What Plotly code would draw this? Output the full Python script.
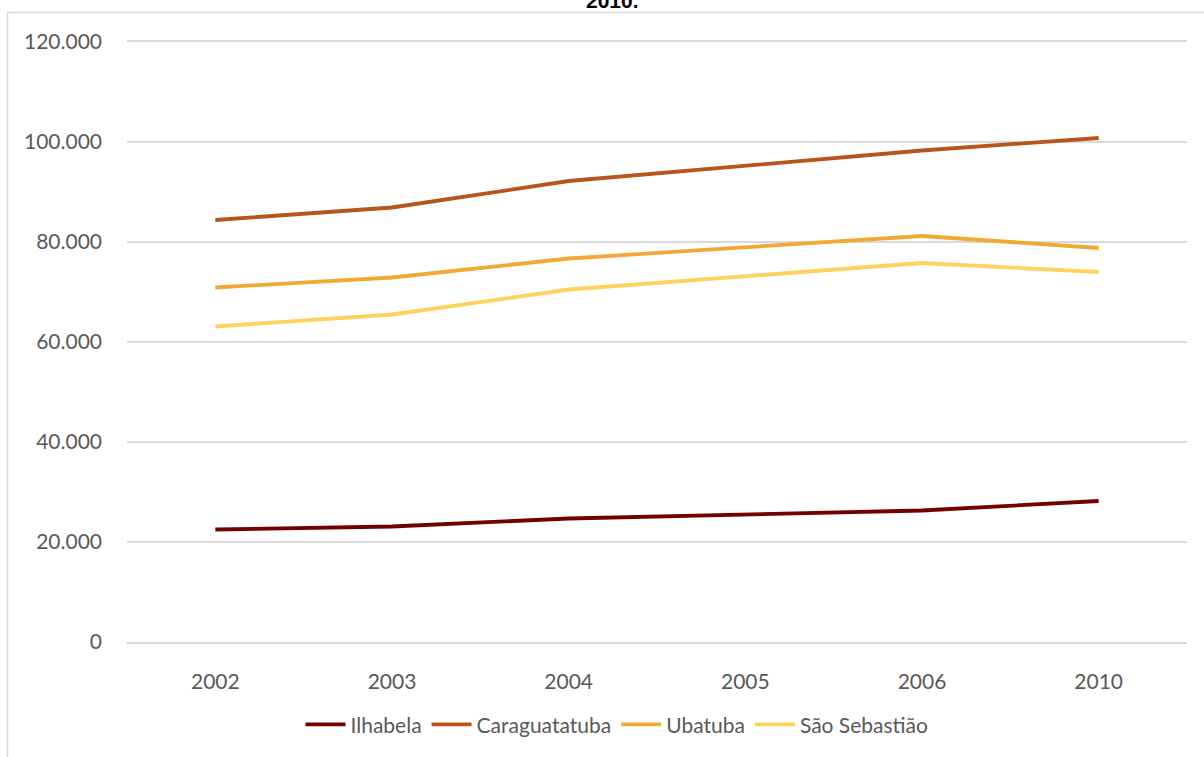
import plotly.graph_objects as go

# Population by municipality, Litoral Norte (SP)
years = ["2002", "2003", "2004", "2005", "2006", "2010"]
ilhabela = [22500, 23100, 24700, 25500, 26300, 28200]
caraguatatuba = [84400, 86900, 92200, 95300, 98300, 100800]
ubatuba = [70900, 72900, 76700, 79000, 81200, 78800]
sao_sebastiao = [63100, 65500, 70500, 73200, 75800, 74000]

series_names = ["Ilhabela", "Caraguatatuba", "Ubatuba", "São Sebastião"]
series_values = [ilhabela, caraguatatuba, ubatuba, sao_sebastiao]
series_colors = ["#730000", "#B5561A", "#F2A933", "#FDD35C"]

W, H = 1204, 757
L, R, T, B = 127, 17, 42, 113
plot_w, plot_h = W - L - R, H - T - B
GRID = "#D9D9D9"


def px_x(px):
    return (px - L) / plot_w


def px_y(py):
    return (H - B - py) / plot_h


fig = go.Figure()
for name, vals, col in zip(series_names, series_values, series_colors):
    fig.add_trace(go.Scatter(
        x=years, y=vals, name=name, mode="lines",
        line=dict(color=col, width=3.8),
    ))

font_family = "Lato, Open Sans, sans-serif"
fig.update_layout(
    width=W, height=H,
    margin=dict(l=L, r=R, t=T, b=B),
    plot_bgcolor="white", paper_bgcolor="white",
    separators=",.",
    font=dict(family=font_family, size=21, color="#595959"),
    showlegend=True,
    legend=dict(
        orientation="h", x=px_x(617), xanchor="center",
        y=px_y(727), yanchor="middle",
        font=dict(family=font_family, size=21, color="#595959"),
        itemwidth=40, tracegroupgap=0,
    ),
    xaxis=dict(
        type="category", range=[-0.5, len(years) - 0.5],
        showgrid=False, zeroline=False,
        showline=True, linecolor=GRID, linewidth=1.6, mirror=True,
        ticks="", ticklabelstandoff=20,
        tickfont=dict(size=21, color="#595959"),
    ),
    yaxis=dict(
        range=[0, 120000], dtick=20000, tickformat=",d",
        showgrid=True, gridcolor=GRID, gridwidth=1.6,
        zeroline=False, showline=False, ticks="",
        ticklabelstandoff=24,
        tickfont=dict(size=21, color="#595959"),
    ),
    shapes=[dict(
        type="path", xref="paper", yref="paper",
        path=f"M {px_x(7.5)} {px_y(780)} L {px_x(7.5)} {px_y(12.5)} L {px_x(1215)} {px_y(12.5)}",
        line=dict(color=GRID, width=1.5),
    )],
    annotations=[dict(
        text="<b>2010.</b>", xref="paper", yref="paper",
        x=px_x(612), y=px_y(0), xanchor="center", yanchor="middle",
        showarrow=False,
        font=dict(family="Liberation Sans, Arial, sans-serif", size=21, color="#000000"),
    )],
)

fig.write_html("out.html")
